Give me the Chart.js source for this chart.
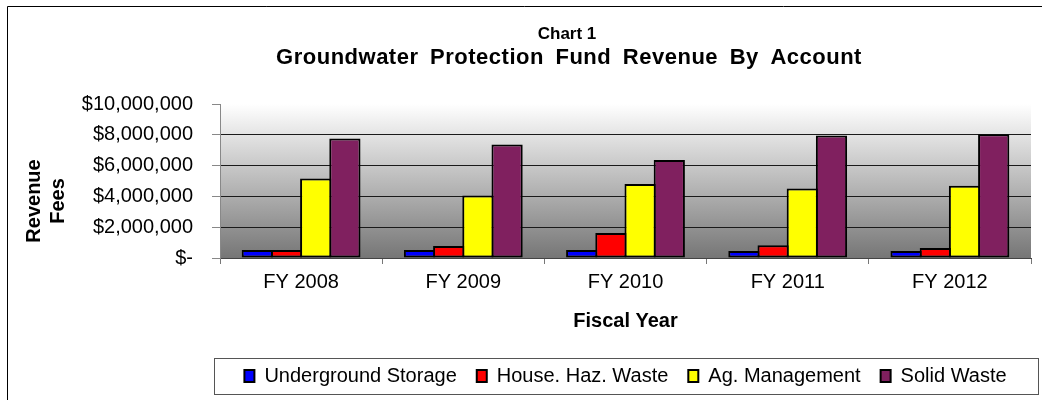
<!DOCTYPE html>
<html>
<head>
<meta charset="utf-8">
<script src="https://cdn.jsdelivr.net/npm/chart.js@4"></script>
<style>
    body { margin: 0; background: #fff; }
    canvas { display: block; }
</style>
</head>
<body>
<canvas id="fund-chart" width="1042" height="400"></canvas>
<script>
const categories = ['FY 2008', 'FY 2009', 'FY 2010', 'FY 2011', 'FY 2012'];
const undergroundStorage = [520000, 520000, 520000, 450000, 450000];
const houseHazWaste = [520000, 780000, 1620000, 820000, 650000];
const agManagement = [5160000, 4060000, 4800000, 4510000, 4690000];
const solidWaste = [7760000, 7370000, 6360000, 7950000, 8040000];
const yTicks = [0, 2000000, 4000000, 6000000, 8000000, 10000000];

const fontFamily = '"Liberation Sans", Arial, sans-serif';

// gray gradient behind the bars, frame lines, titles and the legend box
const decorations = {
    id: 'decorations',
    beforeDraw(chart) {
        const {ctx, chartArea: a} = chart;
        ctx.save();
        let grad = ctx.createLinearGradient(0, a.top, 0, a.bottom);
        grad.addColorStop(0, '#ffffff');
        grad.addColorStop(1, '#767676');
        ctx.fillStyle = grad;
        ctx.fillRect(a.left, a.top, a.right - a.left, a.bottom - a.top);
        ctx.restore();
    },
    afterDraw(chart) {
        const {ctx, chartArea: a, legend} = chart;
        ctx.save();
        // outer frame
        ctx.strokeStyle = '#000';
        ctx.lineWidth = 1;
        ctx.beginPath();
        ctx.moveTo(7.5, 400);
        ctx.lineTo(7.5, 6.5);
        ctx.lineTo(1042, 6.5);
        ctx.stroke();

        // legend frame
        ctx.strokeStyle = '#555';
        ctx.strokeRect(a.left - 5.5, legend.top + 12.5, a.right - a.left + 13, 36);

        // titles
        ctx.fillStyle = '#000';
        ctx.textAlign = 'center';
        ctx.textBaseline = 'middle';
        ctx.font = 'bold 17px ' + fontFamily;
        ctx.fillText('Chart 1', 567, 34);
        ctx.font = 'bold 22px ' + fontFamily;
        ctx.letterSpacing = '0.5px';
        ctx.wordSpacing = '5px';
        ctx.fillText('Groundwater Protection Fund Revenue By Account', 569, 58);
        ctx.letterSpacing = '0px';
        ctx.wordSpacing = '0px';

        // y axis title, two lines
        ctx.font = 'bold 20px ' + fontFamily;
        ['Revenue', 'Fees'].forEach((line, i) => {
            ctx.save();
            ctx.translate(34 + i * 24, 201);
            ctx.rotate(-Math.PI / 2);
            ctx.fillText(line, 0, 0);
            ctx.restore();
        });
        ctx.restore();
    }
};

const barStyle = {
    borderColor: '#000',
    borderWidth: 2,
    borderSkipped: false,
    barPercentage: 1.07,
    categoryPercentage: 0.72
};

let canvas = document.getElementById('fund-chart');
let fundChart = new Chart(canvas, {
    type: 'bar',
    data: {
        labels: categories,
        datasets: [
            Object.assign({label: 'Underground Storage', data: undergroundStorage, backgroundColor: '#0000ff'}, barStyle),
            Object.assign({label: 'House. Haz. Waste', data: houseHazWaste, backgroundColor: '#ff0000'}, barStyle),
            Object.assign({label: 'Ag. Management', data: agManagement, backgroundColor: '#ffff00'}, barStyle),
            Object.assign({label: 'Solid Waste', data: solidWaste, backgroundColor: '#80205f'}, barStyle)
        ]
    },
    options: {
        responsive: false,
        animation: false,
        layout: {
            padding: {top: 104, left: 8, right: 11, bottom: 4}
        },
        plugins: {
            title: {display: false},
            tooltip: {enabled: false},
            legend: {
                position: 'bottom',
                fullSize: false,
                labels: {
                    boxWidth: 10,
                    boxHeight: 12,
                    padding: 20,
                    color: '#000',
                    font: {family: fontFamily, size: 20}
                }
            }
        },
        scales: {
            x: {
                afterFit: (scale) => { scale.height = 88; },
                grid: {
                    drawOnChartArea: false,
                    tickLength: 6,
                    color: '#777'
                },
                border: {color: '#444', width: 1},
                ticks: {
                    padding: 6,
                    color: '#000',
                    font: {family: fontFamily, size: 20}
                },
                title: {
                    display: true,
                    text: 'Fiscal Year',
                    color: '#000',
                    padding: {top: 0, bottom: 13},
                    font: {family: fontFamily, size: 20, weight: 'bold'}
                }
            },
            y: {
                min: 0,
                max: 10000000,
                afterFit: (scale) => { scale.width = 212; },
                afterBuildTicks: (scale) => {
                    scale.ticks = yTicks.map(v => ({value: v}));
                },
                grid: {
                    tickLength: 8,
                    tickColor: '#888',
                    color: (c) => (c.tick && (c.tick.value === 0 || c.tick.value === 10000000)) ? 'rgba(0,0,0,0)' : '#1a1a1a',
                    lineWidth: 1
                },
                border: {color: '#888', width: 1},
                ticks: {
                    padding: 19,
                    color: '#000',
                    font: {family: fontFamily, size: 20},
                    callback: (v) => v === 0 ? '$-' : '$' + v.toLocaleString('en-US')
                }
            }
        }
    },
    plugins: [decorations]
});
window.fundChart = fundChart;
</script>
</body>
</html>
